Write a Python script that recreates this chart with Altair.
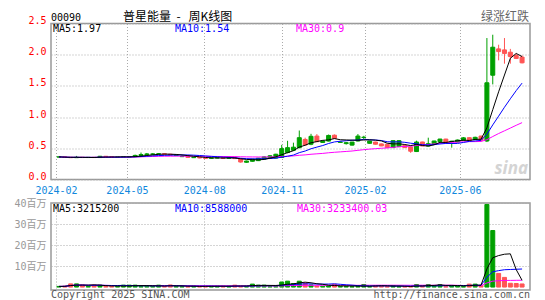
import altair as alt
import pandas as pd

# ---------------- data ----------------
opens = [0.360,0.362,0.355,0.350,0.356,0.352,0.355,0.352,0.372,0.365,
         0.358,0.360,0.363,0.366,0.386,0.400,0.405,0.410,0.412,0.405,
         0.384,0.366,0.370,0.350,0.356,0.345,0.340,0.345,0.348,0.340,
         0.356,0.330,0.276,0.292,0.302,0.328,0.344,0.344,0.354,0.432,
         0.468,0.510,0.642,0.565,0.696,0.594,0.616,0.710,0.594,0.575,
         0.551,0.617,0.674,0.580,0.600,0.570,0.565,0.511,0.527,0.548,
         0.521,0.448,0.601,0.537,0.564,0.606,0.648,0.606,0.601,0.627,
         0.670,0.640,0.696,0.617,1.671,2.093,2.077,2.040,1.987,1.962]
highs = [0.365,0.366,0.360,0.378,0.360,0.358,0.362,0.378,0.374,0.368,
         0.362,0.366,0.372,0.398,0.432,0.425,0.422,0.420,0.415,0.410,
         0.396,0.388,0.372,0.362,0.358,0.350,0.350,0.352,0.350,0.362,
         0.360,0.335,0.302,0.332,0.346,0.372,0.392,0.412,0.555,0.620,
         0.590,0.785,0.670,0.732,0.728,0.625,0.720,0.722,0.610,0.600,
         0.602,0.728,0.700,0.620,0.605,0.575,0.570,0.630,0.630,0.555,
         0.530,0.622,0.605,0.670,0.620,0.652,0.652,0.620,0.640,0.680,
         0.676,0.686,0.700,2.267,2.320,2.160,2.267,2.093,2.020,1.987]
lows = [0.355,0.350,0.345,0.345,0.348,0.348,0.350,0.350,0.360,0.355,
        0.352,0.355,0.358,0.360,0.380,0.392,0.396,0.402,0.400,0.388,
        0.376,0.360,0.350,0.345,0.340,0.335,0.335,0.340,0.335,0.335,
        0.330,0.270,0.270,0.286,0.296,0.324,0.340,0.340,0.350,0.420,
        0.460,0.500,0.548,0.550,0.600,0.586,0.610,0.650,0.585,0.560,
        0.545,0.610,0.640,0.575,0.560,0.535,0.505,0.505,0.520,0.505,
        0.427,0.440,0.535,0.535,0.560,0.600,0.590,0.510,0.595,0.622,
        0.615,0.634,0.625,0.600,1.524,1.910,1.856,1.856,1.930,1.860]
closes = [0.362,0.355,0.350,0.356,0.352,0.355,0.352,0.372,0.365,0.358,
          0.360,0.363,0.366,0.386,0.400,0.410,0.410,0.412,0.405,0.390,
          0.392,0.370,0.355,0.356,0.345,0.340,0.345,0.348,0.340,0.356,
          0.335,0.280,0.296,0.326,0.342,0.362,0.380,0.405,0.495,0.510,
          0.518,0.670,0.553,0.692,0.606,0.616,0.706,0.658,0.600,0.590,
          0.600,0.696,0.678,0.616,0.565,0.538,0.511,0.622,0.622,0.511,
          0.453,0.601,0.537,0.574,0.617,0.648,0.592,0.614,0.633,0.668,
          0.620,0.676,0.630,1.550,2.120,2.050,2.020,1.970,1.940,1.870]
vol_millions = [0.3,0.4,1.5,1.5,1.0,0.3,0.9,0.9,0.3,0.3,
                0.3,0.9,0.9,0.9,0.4,0.4,0.4,0.9,0.3,1.0,
                0.3,0.3,0.2,0.4,0.4,0.4,0.4,0.4,0.4,0.4,
                0.9,0.4,0.4,1.4,0.9,0.9,0.3,0.3,2.4,2.8,
                1.7,2.8,1.9,1.0,0.5,0.4,0.5,1.3,0.3,0.3,
                0.2,0.3,1.2,0.2,0.7,0.7,0.2,0.7,0.2,0.2,
                0.2,1.2,0.7,1.2,0.7,1.2,0.2,0.7,0.7,0.2,
                1.4,1.4,0.8,39.3,26.9,6.5,4.6,1.8,1.7,1.476]

tick_pos = [0, 12.1, 25.3, 38.5, 52.7, 68.9]
tick_labels = ["2024-02", "2024-05", "2024-08", "2024-11", "2025-02", "2025-06"]
price_ticks = [0, 0.5, 1.0, 1.5, 2.0, 2.5]
vol_ticks = [10e6, 20e6, 30e6, 40e6]

stock_code = "00090"
title_text = "普星能量\u00a0\u00a0-\u00a0\u00a0\u00a0周K线图"
color_note = "绿涨红跌"
price_legend = ["MA5:1.97", "MA10:1.54", "MA30:0.9"]
vol_legend = ["MA5:3215200", "MA10:8588000", "MA30:3233400.03"]
footer_left = "Copyright 2025 SINA.COM"
footer_right = "http://finance.sina.com.cn"
watermark = "sina"

# ---------------- styles ----------------
N = len(closes)
GREEN = "#00a000"
RED = "#ff5555"
MONO = "DejaVu Sans Mono, Noto Sans CJK SC"
CJK = "Noto Sans CJK SC"
GRID = "#aaaaaa"
W = 479
H1 = 156
H2 = 87

df = pd.DataFrame({
    "i": list(range(N)),
    "open": opens, "high": highs, "low": lows, "close": closes,
    "vol": [v * 1e6 for v in vol_millions],
})
df["x"] = df["i"] + 0.5
df["dir"] = ["up" if c >= o else "down" for o, c in zip(opens, closes)]

label_expr = "".join(
    f"abs(datum.value - {p}) < 0.01 ? '{l}' : " for p, l in zip(tick_pos, tick_labels)
) + "''"

xscale = alt.Scale(domain=[0, N], nice=False, zero=False)
x_top = alt.X("x:Q", scale=xscale, title=None,
              axis=alt.Axis(values=tick_pos, labelExpr=label_expr, grid=True,
                            gridColor=GRID, gridDash=[1, 2], ticks=False, domain=False,
                            labelColor="#1188dd", labelFont=MONO, labelFontSize=10,
                            labelPadding=6, labelBaseline="top", labelOverlap=False,
                            labelFlush=False, labelAlign="center"))
x_bot = alt.X("x:Q", scale=xscale, title=None,
              axis=alt.Axis(values=tick_pos, labels=False, grid=True, gridColor=GRID,
                            gridDash=[1, 2], ticks=False, domain=False))

color_scale = alt.Scale(domain=["up", "down"], range=[GREEN, RED])
col = alt.Color("dir:N", scale=color_scale, legend=None)
strk = alt.Stroke("dir:N", scale=color_scale, legend=None)

pscale = alt.Scale(domain=[0, 2.5], nice=False, zero=False)
p_axis = alt.Axis(values=price_ticks, format=".1f", grid=True, gridColor=GRID,
                  gridDash=[1, 2], ticks=False, domain=False, labelColor="#ff0000",
                  labelFont=MONO, labelFontSize=10, labelPadding=5,
                  labelBaseline="alphabetic")

base = alt.Chart(df)

wicks = base.mark_rule(strokeWidth=1).encode(
    x=x_top, y=alt.Y("low:Q", scale=pscale, axis=p_axis, title=None), y2="high:Q", color=col)
bodies = base.mark_bar(size=4, strokeWidth=1).encode(
    x=x_top, y=alt.Y("open:Q", scale=pscale, axis=p_axis, title=None), y2="close:Q",
    color=col, stroke=strk)


def ma_line(n, colr, scale, axis, xenc, src):
    return alt.Chart(df).transform_window(
        m=f"mean({src})", frame=[-(n - 1), 0], sort=[alt.SortField("i")]
    ).mark_line(strokeWidth=1, color=colr).encode(
        x=xenc, y=alt.Y("m:Q", scale=scale, axis=axis, title=None))


p_ma5 = ma_line(5, "black", pscale, p_axis, x_top, "close")
p_ma10 = ma_line(10, "#0000ff", pscale, p_axis, x_top, "close")
p_ma30 = ma_line(30, "#ff00ff", pscale, p_axis, x_top, "close")


def txt(s, x, y, color, size=10, font=MONO, align="left", **kw):
    return alt.Chart(pd.DataFrame({"t": [s]})).mark_text(
        align=align, baseline="alphabetic", font=font, fontSize=size, color=color, **kw
    ).encode(text="t:N", x=alt.value(x), y=alt.value(y))


top_texts = [
    txt(stock_code, 0, -3, "black"),
    txt(title_text, 72, -2.5, "black", size=12, font=CJK),
    txt(color_note, 478, -2.5, "#666666", size=12, font=CJK, align="right"),
    txt(price_legend[0], 2, 8, "black"),
    txt(price_legend[1], 124, 8, "#0000ff"),
    txt(price_legend[2], 245, 8, "#ff00ff"),
    txt(watermark, 477, 150, "#d4d4d4", size=17, font="Noto Sans", align="right",
        fontStyle="italic", fontWeight="bold"),
]

top = alt.layer(wicks, bodies, p_ma30, p_ma10, p_ma5, *top_texts).properties(width=W, height=H1)

vscale = alt.Scale(domain=[-1.4e6, 40e6], nice=False, zero=False)
v_axis = alt.Axis(values=vol_ticks, labelExpr="format(datum.value/1000000,'d') + '百万'",
                  grid=True, gridColor=GRID, gridDash=[1, 2], ticks=False, domain=False,
                  labelColor="#999999", labelFont=MONO, labelFontSize=10, labelPadding=5,
                  labelBaseline="middle")
vbars = base.mark_bar(size=4, strokeWidth=1, clip=True).encode(
    x=x_bot, y=alt.Y("vol:Q", scale=vscale, axis=v_axis, title=None), y2=alt.datum(0),
    color=col, stroke=strk)
v_ma5 = ma_line(5, "black", vscale, v_axis, x_bot, "vol")
v_ma10 = ma_line(10, "#0000ff", vscale, v_axis, x_bot, "vol")
v_ma30 = ma_line(30, "#ff00ff", vscale, v_axis, x_bot, "vol")

bot_texts = [
    txt(vol_legend[0], 2, 9, "black"),
    txt(vol_legend[1], 124, 9, "#0000ff"),
    txt(vol_legend[2], 246, 9, "#ff00ff"),
    txt(footer_left, 0, 95, "#555555"),
    txt(footer_right, 479, 95, "#555555", align="right"),
]
bottom = alt.layer(vbars, v_ma30, v_ma10, v_ma5, *bot_texts).properties(width=W, height=H2)

chart = alt.vconcat(top, bottom, spacing=23.5, bounds="flush").properties(
    padding={"left": 5, "top": 1.5, "right": 5, "bottom": 0},
    background="white",
).configure_view(stroke="#999999", strokeWidth=1.5)

chart.save("out.html", embed_options={"renderer": "svg", "actions": False})
